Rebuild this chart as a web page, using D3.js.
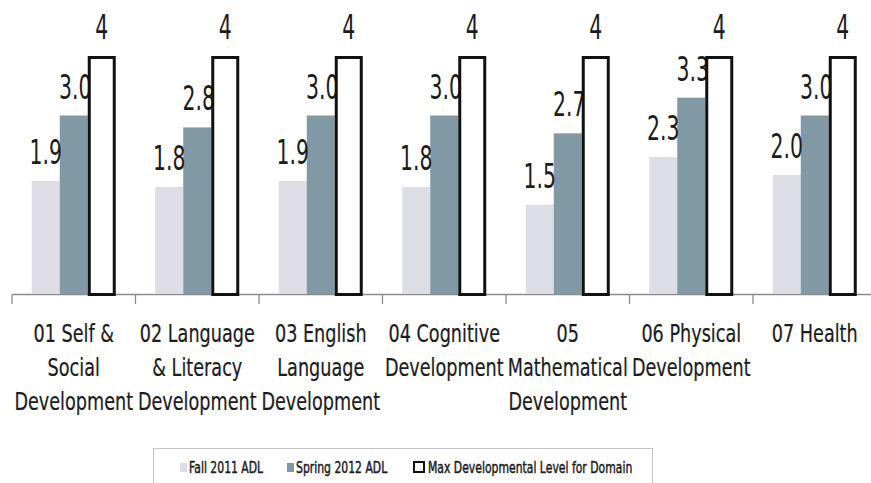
<!DOCTYPE html>
<html>
<head>
<meta charset="utf-8">
<script src="https://cdn.jsdelivr.net/npm/d3@7/dist/d3.min.js"></script>
<style>
  html, body { margin: 0; padding: 0; background: #fff; }
  svg { display: block; }
  text { font-family: "DejaVu Sans", Verdana, sans-serif; fill: #1c1c1c; }
</style>
</head>
<body>
<div id="chart"></div>
<script>
// chart data
const categories = [
    "01 Self &\nSocial\nDevelopment",
    "02 Language\n& Literacy\nDevelopment",
    "03 English\nLanguage\nDevelopment",
    "04 Cognitive\nDevelopment",
    "05\nMathematical\nDevelopment",
    "06 Physical\nDevelopment",
    "07 Health"
];
const seriesNames = ["Fall 2011 ADL", "Spring 2012 ADL", "Max Developmental Level for Domain"];
const fallValues = [1.9, 1.8, 1.9, 1.8, 1.5, 2.3, 2.0];
const springValues = [3.0, 2.8, 3.0, 3.0, 2.7, 3.3, 3.0];
const maxValues = [4, 4, 4, 4, 4, 4, 4];

const width = 871, height = 483;
const baseline = 294, plotTop = 56;

const svg = d3.select("#chart")
    .append("svg")
    .attr("width", width)
    .attr("height", height);

// the plot runs a little past the right edge, like the original
const x0 = d3.scaleBand()
    .domain(categories)
    .range([12, 876.5])
    .paddingInner(0)
    .paddingOuter(0);

const x1 = d3.scaleBand()
    .domain(seriesNames)
    .range([0, x0.bandwidth()])
    .paddingInner(0)
    .paddingOuter(0.705);

const y = d3.scaleLinear()
    .domain([0, 4])
    .range([baseline, plotTop]);

const colors = { fall: "#dcdde5", spring: "#8199a5" };

const rows = categories.map((c, i) => ({
    cat: c, fall: fallValues[i], spring: springValues[i], max: maxValues[i]
}));

// axis line + labels
const axis = svg.append("g")
    .attr("transform", `translate(0,${baseline})`)
    .call(d3.axisBottom(x0).tickSize(0).tickSizeOuter(0).tickFormat(""));
axis.select(".domain").attr("stroke", "#8a8a8a").attr("stroke-width", 1.5);

// ticks sit between the categories
svg.append("g").selectAll("line")
    .data(categories)
    .join("line")
    .attr("x1", d => x0(d)).attr("x2", d => x0(d))
    .attr("y1", baseline).attr("y2", baseline + 10)
    .attr("stroke", "#8a8a8a").attr("stroke-width", 1.3);

const catLabels = svg.append("g").selectAll("g")
    .data(categories)
    .join("g")
    .attr("transform", d => `translate(${x0(d) + x0.bandwidth() / 2},342) scale(0.72,1)`);
catLabels.each(function(d) {
    const t = d3.select(this).append("text")
        .attr("text-anchor", "middle")
        .style("font-size", "24.5px")
        .style("stroke", "#1c1c1c")
        .style("stroke-width", 0.25);
    d.split("\n").forEach((line, i) => {
        t.append("tspan").attr("x", 0).attr("y", i * 34).text(line);
    });
});

const groups = svg.append("g").selectAll("g")
    .data(rows)
    .join("g")
    .attr("transform", d => `translate(${x0(d.cat)},0)`);

// fall bars
groups.append("rect")
    .attr("x", x1(seriesNames[0]))
    .attr("y", d => y(d.fall))
    .attr("width", x1.bandwidth())
    .attr("height", d => baseline - y(d.fall))
    .attr("fill", colors.fall);

// spring bars
groups.append("rect")
    .attr("x", x1(seriesNames[1]))
    .attr("y", d => y(d.spring))
    .attr("width", x1.bandwidth())
    .attr("height", d => baseline - y(d.spring))
    .attr("fill", colors.spring);

function valueLabel(sel, key, idx, fmt) {
    sel.append("g")
        .attr("transform", d => `translate(${x1(seriesNames[idx]) + x1.bandwidth() / 2 + (idx === 1 ? 1.5 : 0)},${y(d[key]) - 17}) scale(0.6,1)`)
        .append("text")
        .attr("text-anchor", "middle")
        .style("font-size", "34px")
        .text(d => d3.format(fmt)(d[key]));
}

valueLabel(groups, "fall", 0, ".1f");
valueLabel(groups, "spring", 1, ".1f");

// max bars drawn over the spring labels
groups.append("rect")
    .attr("x", x1(seriesNames[2]) + 1.5)
    .attr("y", d => y(d.max) + 1.5)
    .attr("width", x1.bandwidth() - 3)
    .attr("height", d => baseline - y(d.max) - 1)
    .attr("fill", "#fff")
    .attr("stroke", "#111")
    .attr("stroke-width", 3);

valueLabel(groups, "max", 2, "d");

// legend
const legend = svg.append("g");
legend.append("rect")
    .attr("x", 153.5).attr("y", 448.5)
    .attr("width", 499).attr("height", 60)
    .attr("fill", "#fff")
    .attr("stroke", "#c4c4c4");

const legendX = [180, 287, 413];
const items = legend.selectAll("g.item")
    .data(seriesNames)
    .join("g")
    .attr("class", "item")
    .attr("transform", (d, i) => `translate(${legendX[i]},0)`);

items.append("rect")
    .attr("x", (d, i) => i === 2 ? 1 : 0)
    .attr("y", (d, i) => i === 2 ? 462 : 463)
    .attr("width", (d, i) => i === 2 ? 10 : 7)
    .attr("height", (d, i) => i === 2 ? 10 : 9)
    .attr("fill", (d, i) => [colors.fall, colors.spring, "#fff"][i])
    .attr("stroke", (d, i) => i === 2 ? "#111" : "none")
    .attr("stroke-width", 2);

items.append("g")
    .attr("transform", (d, i) => `translate(${i === 2 ? 15 : 9},473) scale(0.7,1)`)
    .append("text")
    .style("font-size", "15.5px")
    .style("stroke", "#1c1c1c")
    .style("stroke-width", 0.5)
    .text(d => d);
</script>
</body>
</html>
